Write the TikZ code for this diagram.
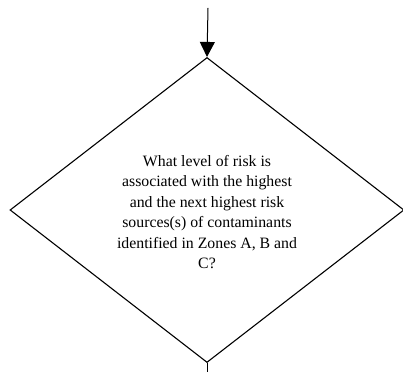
\documentclass[tikz,border=0pt]{standalone}
\usepackage{fontspec}
\setmainfont{Liberation Serif}
\usetikzlibrary{shapes.geometric,arrows.meta}
\begin{document}
\begin{tikzpicture}[x=1pt,y=1pt,
  decision/.style={draw=black, line width=1.1pt, diamond, inner sep=0pt,
    minimum width=394pt, minimum height=305pt, aspect=1.29},
  qtext/.style={align=center, font=\fontsize{15.8}{20.4}\selectfont, inner sep=0pt},
  flow/.style={line width=1pt, -{Triangle[width=15pt,length=15pt]}},
  plain/.style={line width=1pt}]
\useasboundingbox (0,0) rectangle (403,371);
\node[decision] (d) at (207,161) {};
\node[qtext] (q) at (207,159) {What level of risk is\\associated with the highest\\and the next highest risk\\sources(s) of contaminants\\identified in Zones A, B and\\C?};
\coordinate (in) at (208,363);
\coordinate (out) at (207,-5);
\draw[flow] (in) -- (d.north);
\draw[plain] (d.south) -- (out);
\end{tikzpicture}
\end{document}
